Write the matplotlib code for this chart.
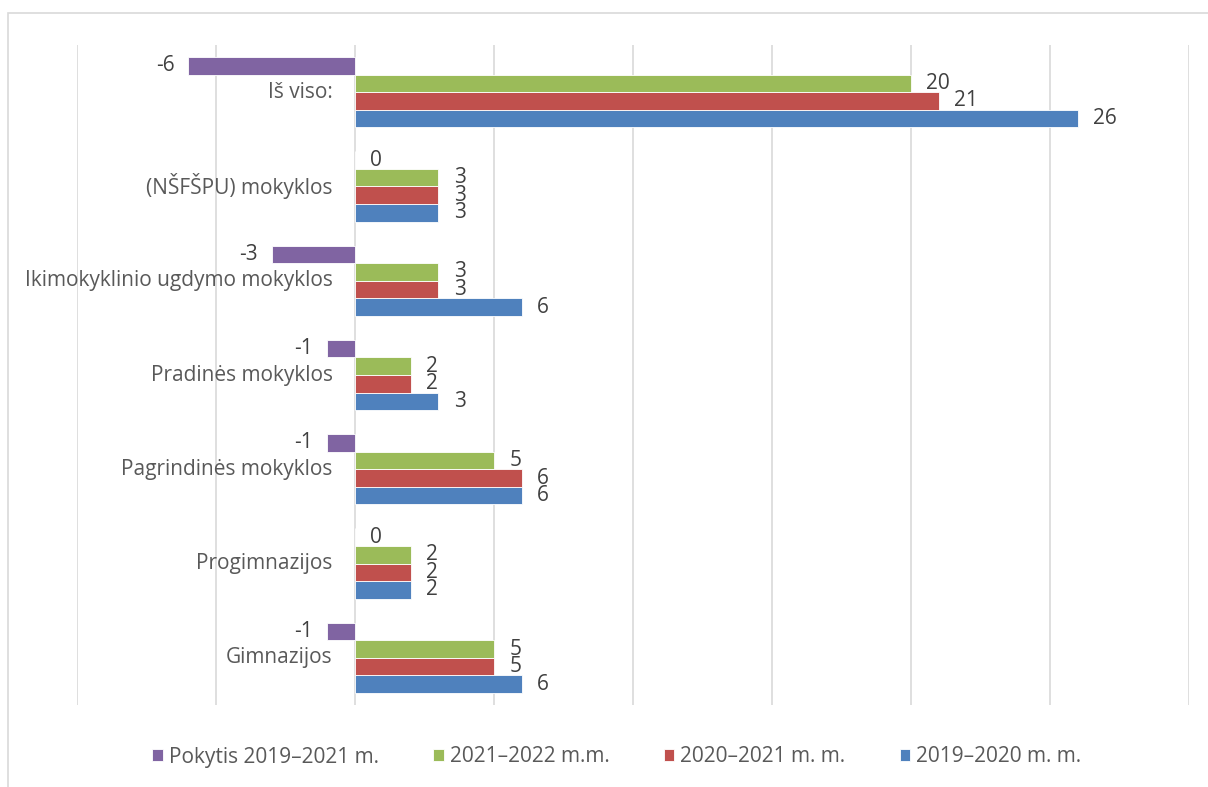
import matplotlib.pyplot as plt
from matplotlib.patches import Rectangle
import numpy as np

plt.rcParams['font.family'] = ['Open Sans', 'DejaVu Sans']

categories = ['Gimnazijos', 'Progimnazijos', 'Pagrindinės mokyklos', 'Pradinės mokyklos',
              'Ikimokyklinio ugdymo mokyklos', '(NŠFŠPU) mokyklos', 'Iš viso:']
v_2019 = [6, 2, 6, 3, 6, 3, 26]
v_2020 = [5, 2, 6, 2, 3, 3, 21]
v_2021 = [5, 2, 5, 2, 3, 3, 20]
pokytis = [-1, 0, -1, -1, -3, 0, -6]

series = [
    ('2019–2020 m. m.', v_2019, '#4F81BD'),
    ('2020–2021 m. m.', v_2020, '#C0504D'),
    ('2021–2022 m.m.', v_2021, '#9BBB59'),
    ('Pokytis 2019–2021 m.', pokytis, '#8064A2'),
]

text_col = '#404040'
fs = 15
fig = plt.figure(figsize=(12.08, 7.87), dpi=100)
ax = fig.add_axes([77 / 1208, 1 - 705 / 787, (1189 - 77) / 1208, 660 / 787])

y = np.arange(len(categories))
h = 0.186
handles = []
for k, (name, vals, col) in enumerate(series):
    pos = y + (k - 1.5) * h
    b = ax.barh(pos, vals, height=h, color=col, edgecolor='white', linewidth=0.6, zorder=3)
    handles.append(b)
    for p, v in zip(pos, vals):
        if v < 0:
            ax.annotate(str(v), (v, p), xytext=(-10, 0), textcoords='offset points',
                        ha='right', va='center', fontsize=fs, color=text_col)
        else:
            ax.annotate(str(v), (v, p), xytext=(11, 0), textcoords='offset points',
                        ha='left', va='center', fontsize=fs, color=text_col)

for i, c in enumerate(categories):
    ax.annotate(c, (0, i), xytext=(-16, 0), textcoords='offset points',
                ha='right', va='center', fontsize=fs, color='#595959')

ax.set_xlim(-10, 30)
ax.set_ylim(-0.5, len(categories) - 0.5)
ax.set_xticks(np.arange(-10, 31, 5))
ax.set_xticklabels([])
ax.set_yticks([])
ax.tick_params(length=0)
ax.grid(axis='x', color='#D9D9D9', linewidth=1.2, zorder=0)
for s in ax.spines.values():
    s.set_visible(False)

leg = fig.legend([handles[3], handles[2], handles[1], handles[0]],
                 [series[3][0], series[2][0], series[1][0], series[0][0]],
                 loc='center', bbox_to_anchor=(617 / 1208, 1 - 757 / 787), ncol=4,
                 frameon=False, fontsize=fs, handlelength=0.5, handleheight=0.55,
                 handletextpad=0.3, columnspacing=2.6)
for t in leg.get_texts():
    t.set_color('#595959')

fig.patches.append(Rectangle((8 / 1208, -0.05), 1.1, 1.05 - 13 / 787, transform=fig.transFigure,
                             fill=False, edgecolor='#D9D9D9', linewidth=1.2))

fig.savefig('out.png', dpi=100)
